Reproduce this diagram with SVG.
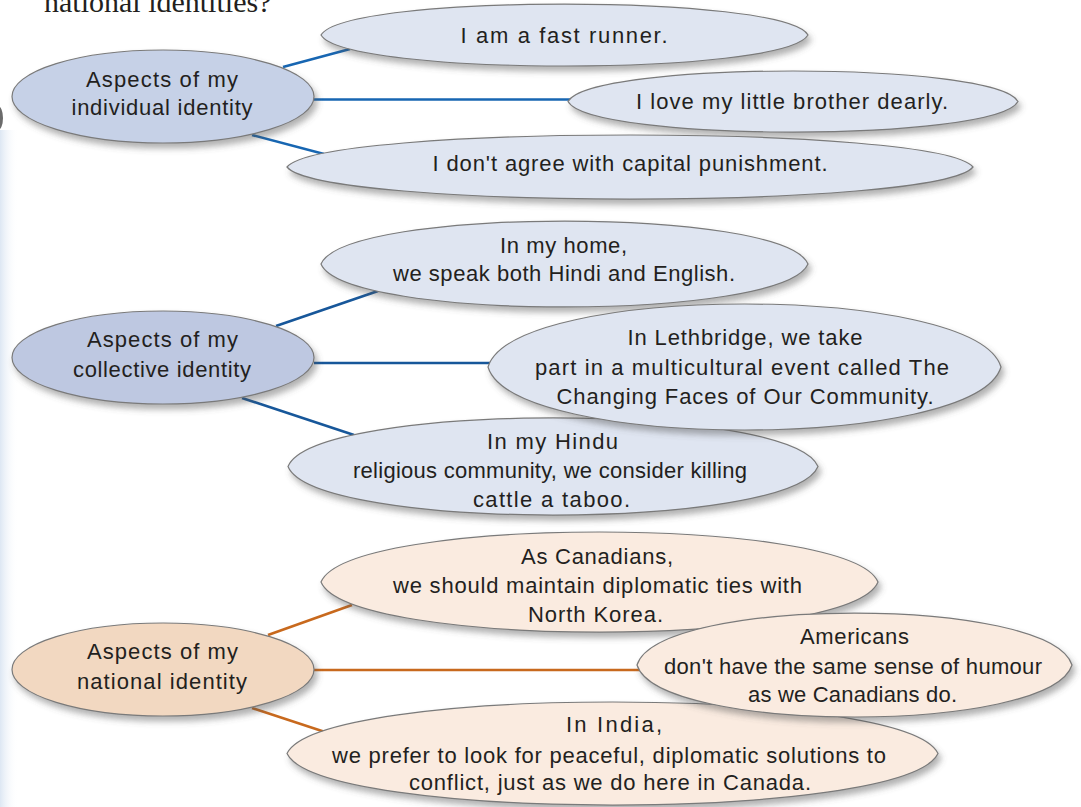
<svg xmlns="http://www.w3.org/2000/svg" width="1081" height="807" viewBox="0 0 1081 807">
<defs>
<style>
.t{font-family:"Liberation Sans",Arial,sans-serif;font-size:22px;fill:#231f20;text-anchor:middle;}
.title{font-family:"Liberation Serif","Times New Roman",serif;font-size:30px;fill:#231f20;}
.sh{stroke:#7a7a7a;stroke-width:1.2;filter:url(#ds);}
.cb{fill:#c6d1e7;}
.cc{fill:#bec8e1;}
.cn{fill:#f2d8c1;}
.lb{fill:#dfe5f1;}
.lp{fill:#faebe0;}
.c1{stroke:#1766b2;stroke-width:2.6;fill:none;}
.c2{stroke:#17579a;stroke-width:2.6;fill:none;}
.c3{stroke:#c8691d;stroke-width:2.6;fill:none;}
</style>
<filter id="ds" x="-10%" y="-30%" width="125%" height="170%">
<feDropShadow dx="3" dy="5" stdDeviation="3" flood-color="#555" flood-opacity="0.45"/>
</filter>
<linearGradient id="edge" x1="0" y1="0" x2="1" y2="0">
<stop offset="0" stop-color="#dde7f3"/>
<stop offset="1" stop-color="#ffffff" stop-opacity="0"/>
</linearGradient>
</defs>
<rect width="1081" height="807" fill="#ffffff"/>
<rect x="0" y="130" width="18" height="677" fill="url(#edge)"/>
<ellipse cx="-2" cy="118" rx="5" ry="12" fill="#6b6b6b"/>
<text class="title" x="44" y="12">national identities?</text>

<g id="connectors">
<line class="c1" x1="283" y1="67" x2="350" y2="49"/>
<line class="c1" x1="314" y1="99.5" x2="570" y2="99.5"/>
<line class="c1" x1="252" y1="135" x2="324" y2="154"/>
<line class="c2" x1="276" y1="326" x2="378" y2="291"/>
<line class="c2" x1="314" y1="363" x2="490" y2="363"/>
<line class="c2" x1="242" y1="398" x2="354" y2="435"/>
<line class="c3" x1="268" y1="635" x2="352" y2="605"/>
<line class="c3" x1="314" y1="670" x2="640" y2="670"/>
<line class="c3" x1="252" y1="708" x2="325" y2="732"/>
</g>

<g id="individual">
<ellipse class="sh cb" cx="163" cy="96.5" rx="151" ry="46.5"/>
<text class="t" x="162" y="87" textLength="152" lengthAdjust="spacing">Aspects of my</text>
<text class="t" x="162" y="115" textLength="181" lengthAdjust="spacing">individual identity</text>
</g>
<g id="fast-runner">
<path class="sh lb" d="M321,35 C345.4,-6.3 783.6,-6.3 808,35 C783.6,76.3 345.4,76.3 321,35Z"/>
<text class="t" x="564" y="43" textLength="207" lengthAdjust="spacing">I am a fast runner.</text>
</g>
<g id="brother">
<path class="sh lb" d="M568,101.5 C590.5,60.8 995.5,60.8 1018,101.5 C995.5,142.2 590.5,142.2 568,101.5Z"/>
<text class="t" x="792" y="109" textLength="312" lengthAdjust="spacing">I love my little brother dearly.</text>
</g>
<g id="capital">
<path class="sh lb" d="M287,167 C321.3,124.3 938.7,124.3 973,167 C938.7,209.7 321.3,209.7 287,167Z"/>
<text class="t" x="630" y="171" textLength="395" lengthAdjust="spacing">I don't agree with capital punishment.</text>
</g>

<g id="collective">
<ellipse class="sh cc" cx="163" cy="357.5" rx="151" ry="46.5"/>
<text class="t" x="162.5" y="347" textLength="151" lengthAdjust="spacing">Aspects of my</text>
<text class="t" x="162" y="377" textLength="178" lengthAdjust="spacing">collective identity</text>
</g>
<g id="home">
<path class="sh lb" d="M321,264 C345.4,206.7 783.6,206.7 808,264 C783.6,321.3 345.4,321.3 321,264Z"/>
<text class="t" x="563.5" y="253" textLength="127" lengthAdjust="spacing">In my home,</text>
<text class="t" x="564" y="281" textLength="342" lengthAdjust="spacing">we speak both Hindi and English.</text>
</g>
<g id="hindu">
<path class="sh lb" d="M288,466.5 C314.5,401.8 791.5,401.8 818,466.5 C791.5,531.2 314.5,531.2 288,466.5Z"/>
<text class="t" x="552.5" y="449" textLength="131" lengthAdjust="spacing">In my Hindu</text>
<text class="t" x="550" y="478" textLength="394" lengthAdjust="spacing">religious community, we consider killing</text>
<text class="t" x="551.5" y="507" textLength="157" lengthAdjust="spacing">cattle a taboo.</text>
</g>
<g id="lethbridge">
<path class="sh lb" d="M488,367 C513.7,283 975.4,283 1001,367 C975.4,451 513.7,451 488,367Z"/>
<text class="t" x="745" y="345" textLength="235" lengthAdjust="spacing">In Lethbridge, we take</text>
<text class="t" x="742" y="374.5" textLength="414" lengthAdjust="spacing">part in a multicultural event called The</text>
<text class="t" x="745" y="404" textLength="377" lengthAdjust="spacing">Changing Faces of Our Community.</text>
</g>

<g id="national">
<ellipse class="sh cn" cx="163" cy="669.5" rx="151" ry="46.5"/>
<text class="t" x="162.5" y="659" textLength="151" lengthAdjust="spacing">Aspects of my</text>
<text class="t" x="162" y="689" textLength="170" lengthAdjust="spacing">national identity</text>
</g>
<g id="canadians">
<path class="sh lp" d="M321,582 C348.9,515.3 850.2,515.3 878,582 C850.2,648.7 348.9,648.7 321,582Z"/>
<text class="t" x="597" y="564" textLength="152" lengthAdjust="spacing">As Canadians,</text>
<text class="t" x="597.5" y="593" textLength="409" lengthAdjust="spacing">we should maintain diplomatic ties with</text>
<text class="t" x="595.5" y="622" textLength="135" lengthAdjust="spacing">North Korea.</text>
</g>
<g id="india">
<path class="sh lp" d="M287,753.5 C319.6,684.8 905.5,684.8 938,753.5 C905.5,822.2 319.6,822.2 287,753.5Z"/>
<text class="t" x="614" y="732" textLength="96" lengthAdjust="spacing">In India,</text>
<text class="t" x="609" y="763" textLength="554" lengthAdjust="spacing">we prefer to look for peaceful, diplomatic solutions to</text>
<text class="t" x="610" y="790" textLength="402" lengthAdjust="spacing">conflict, just as we do here in Canada.</text>
</g>
<g id="americans">
<path class="sh lp" d="M637,665 C658.8,595.7 1050.3,595.7 1072,665 C1050.3,734.3 658.8,734.3 637,665Z"/>
<text class="t" x="854.5" y="644" textLength="109" lengthAdjust="spacing">Americans</text>
<text class="t" x="853" y="674" textLength="378" lengthAdjust="spacing">don't have the same sense of humour</text>
<text class="t" x="852.5" y="702" textLength="209" lengthAdjust="spacing">as we Canadians do.</text>
</g>
</svg>
